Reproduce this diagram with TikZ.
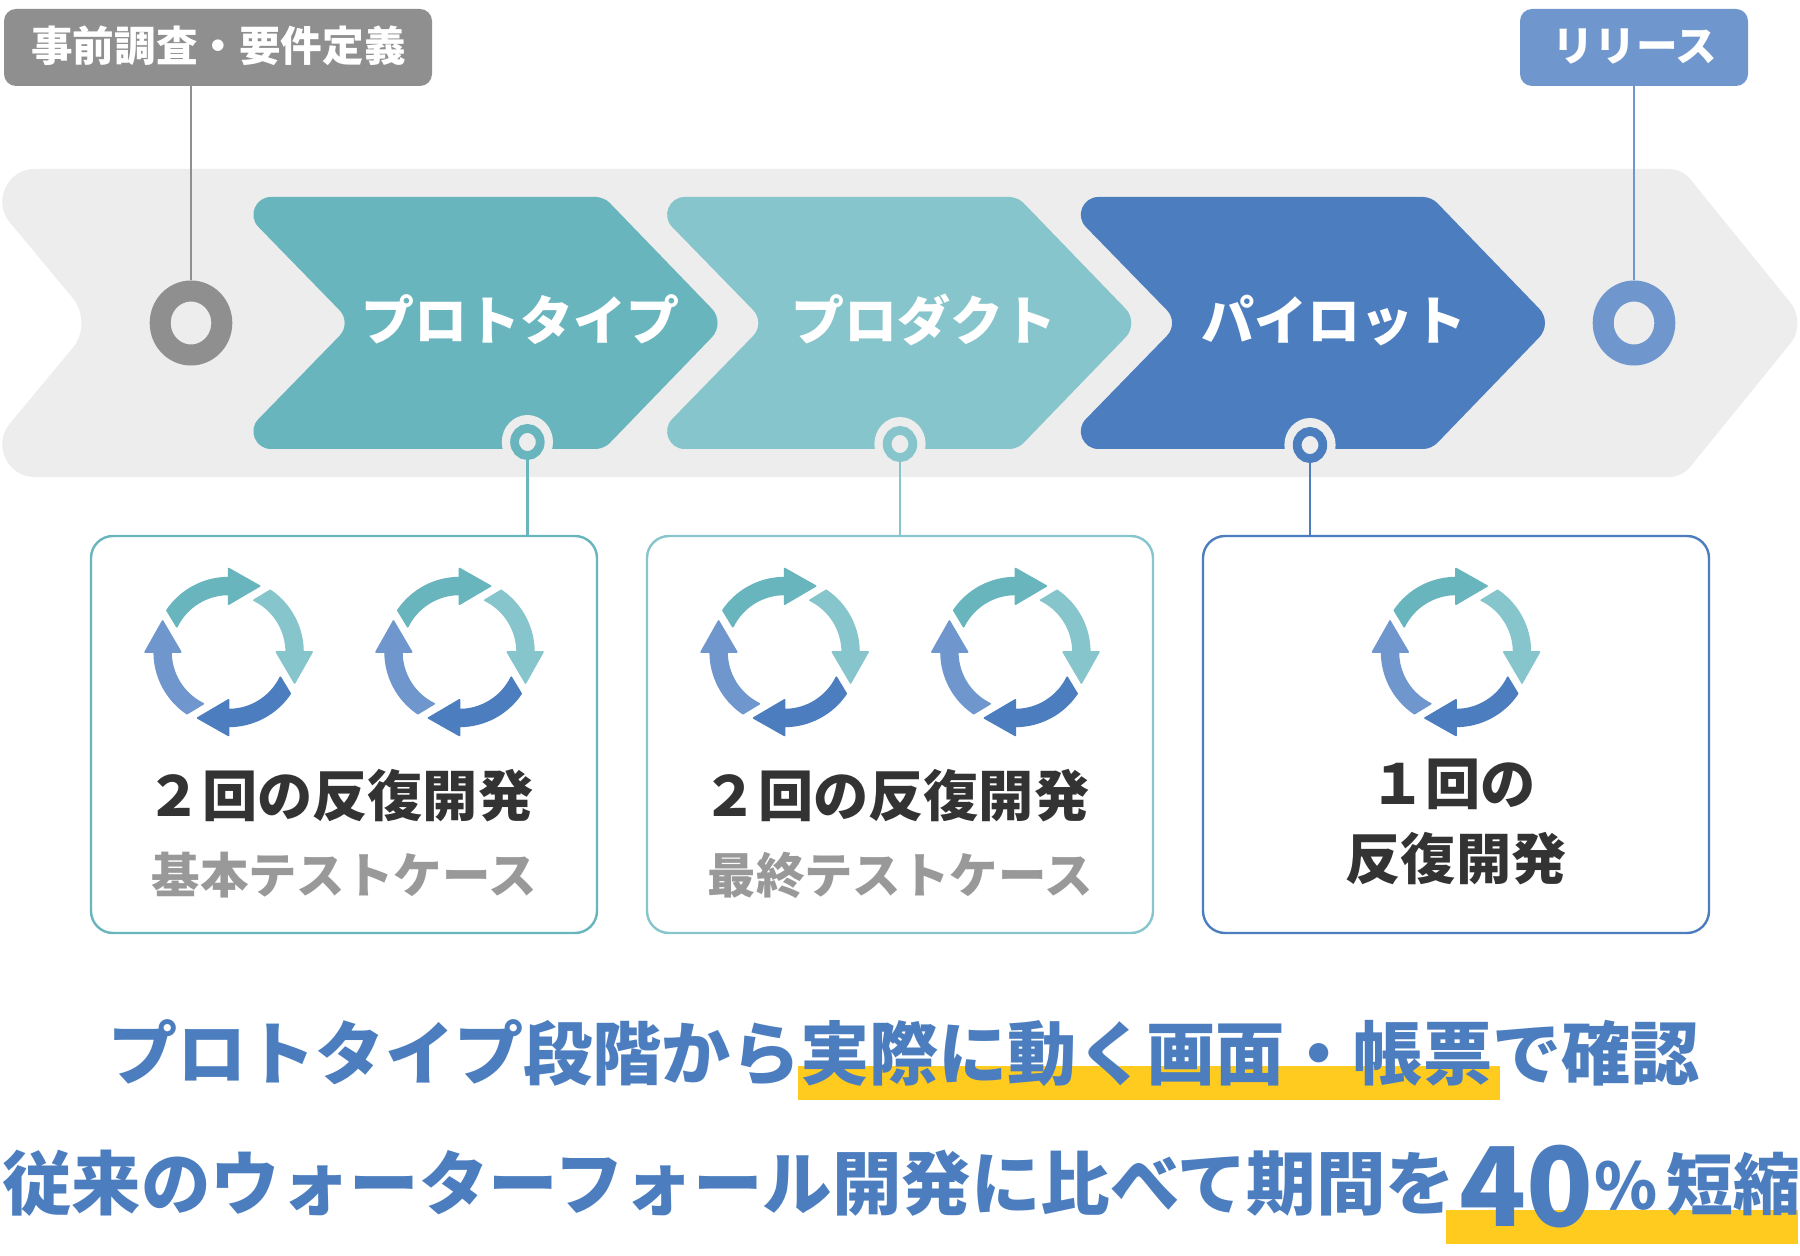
\documentclass[tikz,border=0pt]{standalone}
\usepackage{fontspec}
\setmainfont{Noto Sans CJK JP}
\usetikzlibrary{shapes.geometric}
\definecolor{bandgrey}{HTML}{EDEDED}
\definecolor{tagegrey}{HTML}{8F8F8F}
\definecolor{tealA}{HTML}{68B5BD}
\definecolor{tealB}{HTML}{86C5CB}
\definecolor{blueA}{HTML}{4C7EBF}
\definecolor{blueB}{HTML}{7097CD}
\definecolor{markyellow}{HTML}{FFCB1F}
\definecolor{inkdark}{HTML}{333333}
\definecolor{inkgrey}{HTML}{999999}
\tikzset{
	tagbox/.style={fill=#1, rounded corners=6pt, minimum height=38.5pt, inner sep=0pt},
	tagtext/.style={anchor=base, text=white, font=\fontsize{20.8}{20.8}\selectfont\bfseries, inner sep=0pt},
	bigring/.style={ellipse, draw=#1, fill=bandgrey, line width=10.5pt, minimum width=30.8pt, minimum height=32pt, inner sep=0pt},
	halo/.style={ellipse, fill=bandgrey, minimum width=25.6pt, minimum height=27pt, inner sep=0pt},
	smallring/.style={ellipse, draw=#1, fill=bandgrey, line width=4.4pt, minimum width=12.8pt, minimum height=13.6pt, inner sep=0pt},
	stagebox/.style={draw=#1, fill=white, rounded corners=11pt, line width=1.2pt, minimum width=253pt, minimum height=198.5pt, inner sep=0pt},
	stagetext/.style={anchor=base, text=white, font=\fontsize{26.5}{26.5}\selectfont\bfseries, inner sep=0pt},
	counttext/.style={anchor=base, text=inkdark, font=\fontsize{27.6}{27.6}\selectfont\bfseries, inner sep=0pt},
	casetext/.style={anchor=base, text=inkgrey, font=\fontsize{24.2}{24.2}\selectfont\bfseries, inner sep=0pt},
	leadtext/.style={anchor=base west, text=blueA, font=\fontsize{34.6}{34.6}\selectfont\bfseries, inner sep=0pt},
	linktext/.style={leadtext, font=\fontsize{34.75}{34.75}\selectfont\bfseries},
	cycleicon/.pic={
		\foreach \rot/\col in {0/tealA,-90/tealB,-180/blueA,-270/blueB}{
			\begin{scope}[rotate=\rot, x=.5pt, y=.5pt]
				\path[fill=\col, draw=\col, line width=.8pt, line join=round]
					(146:74.4) arc[start angle=146, end angle=90, radius=74.4] -- (0,83.5) -- (31,66) -- (0,47.8) -- (0,57.6)
					arc[start angle=90, end angle=154, radius=57.6] -- cycle;
			\end{scope}
		}
	}
}
\begin{document}
\begin{tikzpicture}[x=.5pt, y=-.5pt]
  \useasboundingbox (0,0) rectangle (1800,1256);

  \fill[bandgrey] (800,169) [rounded corners=6pt] -- (1682,169) [rounded corners=13pt] -- (1807,323) [rounded corners=6pt] -- (1682,477)
    [sharp corners] -- (34.5,477) .. controls (7.5,477) and (-7.7,444.8) .. (9.5,424) [rounded corners=16pt] -- (93.4,323) [sharp corners] -- (9.5,222)
    .. controls (-7.7,201.2) and (7.5,169) .. (34.5,169) -- cycle;

  \foreach \cx/\col in {229/tealA,642.7/tealB,1056.4/blueA}{
    \fill[\col] (\cx+200,197) [rounded corners=4pt] -- (\cx+375,197) [rounded corners=10pt] -- (\cx+496.7,323) [rounded corners=4pt] -- (\cx+375,449)
      [sharp corners] -- (\cx+42,449) .. controls (\cx+26.4,449) and (\cx+18.5,430.1) .. (\cx+29.5,419) [rounded corners=9pt] -- (\cx+123,323) [sharp corners] -- (\cx+29.5,227)
      .. controls (\cx+18.5,215.9) and (\cx+26.4,197) .. (\cx+42,197) -- cycle;
  }

  \node (protoName) [stagetext] at (520,341) {プロトタイプ};
  \node (prodName) [stagetext] at (923.6,341) {プロダクト};
  \node (pilotName) [stagetext] at (1334,341) {パイロット};

  \node (preTag) [tagbox=tagegrey, minimum width=214pt] at (218,47.5) {};
  \node (preText) [tagtext] at (218.5,62) {事前調査・要件定義};
  \node (relTag) [tagbox=blueB, minimum width=114pt] at (1634,47.5) {};
  \node (relText) [tagtext] at (1635,62) {リリース};

  \node (preRing) [bigring=tagegrey] at (191,323) {};
  \node (relRing) [bigring=blueB] at (1634,323) {};
  \draw[tagegrey, line width=1.2pt] (preRing |- preTag.south) -- (preRing.north);
  \draw[blueB, line width=1.2pt] (relRing |- relTag.south) -- (relRing.north);

  \node (protoHalo) [halo] at (527.4,442) {};
  \node (prodHalo) [halo] at (900,444) {};
  \node (pilotHalo) [halo] at (1310,445) {};
  \node (protoRing) [smallring=tealA] at (protoHalo) {};
  \node (prodRing) [smallring=tealB] at (prodHalo) {};
  \node (pilotRing) [smallring=blueA] at (pilotHalo) {};

  \node (protoBox) [stagebox=tealA] at (344,734.5) {};
  \node (prodBox) [stagebox=tealB] at (900,734.5) {};
  \node (pilotBox) [stagebox=blueA] at (1456,734.5) {};
  \draw[tealA, line width=1.2pt] (protoRing.south) -- (protoRing |- protoBox.north);
  \draw[tealB, line width=1.2pt] (prodRing.south) -- (prodRing |- prodBox.north);
  \draw[blueA, line width=1.2pt] (pilotRing.south) -- (pilotRing |- pilotBox.north);

  \pic at (228.6,652) {cycleicon};
  \pic at (459.5,652) {cycleicon};
  \pic at (784.6,652) {cycleicon};
  \pic at (1015.4,652) {cycleicon};
  \pic at (1456,652) {cycleicon};

  \node (protoCount) [counttext] at (340,816) {２回の反復開発};
  \node (protoCase) [casetext] at (344,893) {基本テストケース};
  \node (prodCount) [counttext] at (896,816) {２回の反復開発};
  \node (prodCase) [casetext] at (900,893) {最終テストケース};
  \node (pilotCountA) [counttext] at (1453,805) {１回の};
  \node (pilotCountB) [counttext] at (1456,879) {反復開発};

  \fill[markyellow] (798,1066) rectangle (1500,1100);
  \fill[markyellow] (1446,1210) rectangle (1798,1244);

  \node (leadA) [leadtext] at (108,1079) {プロトタイプ段階から実際に動く画面・帳票で確認};
  \node (leadB) [linktext] at (2,1209) {従来のウォーターフォール開発に比べて期間を};
  \node (leadNum) [leadtext, font=\fontsize{55}{55}\selectfont\bfseries] at (1459,1226) {40};
  \node (leadPct) [leadtext, font=\fontsize{32}{32}\selectfont\bfseries] at (1594,1209) {\%};
  \node (leadEnd) [leadtext, font=\fontsize{33.4}{33.4}\selectfont\bfseries] at (1666,1209) {短縮};
\end{tikzpicture}
\end{document}
